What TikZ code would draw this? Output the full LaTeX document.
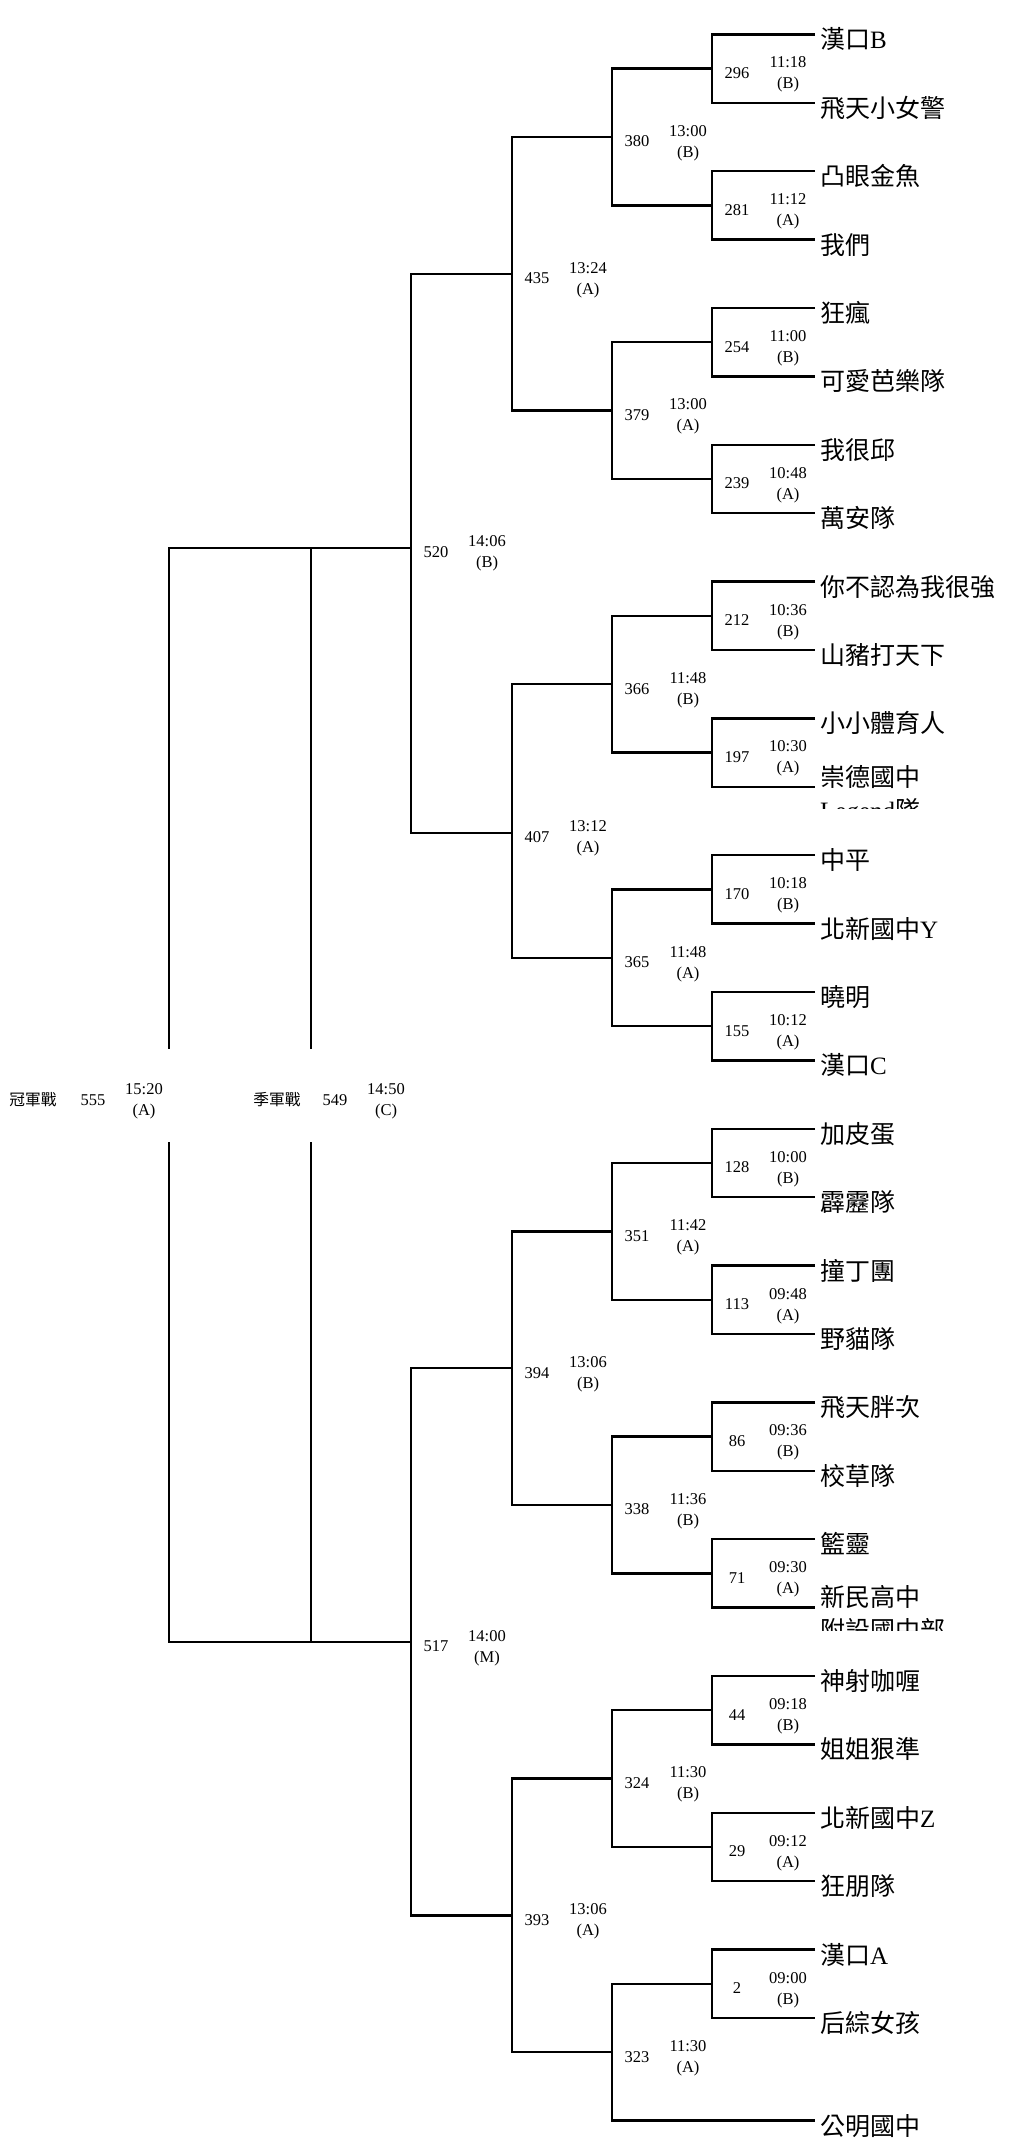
\documentclass[tikz,border=0pt]{standalone}
\usepackage{fontspec}
\setmainfont{Liberation Serif}
\newfontfamily\cjk{Noto Sans CJK TC}
\tikzset{
  bracket/.style={line width=2.3pt},
  team/.style={font=\cjk\fontsize{25}{33}\selectfont, inner sep=0pt, anchor=base west},
  num/.style={font=\fontsize{16.5}{21}\selectfont, inner sep=0pt},
  slot/.style={font=\fontsize{16.5}{21}\selectfont, inner sep=0pt, align=center},
  final/.style={font=\cjk\fontsize{15.7}{21}\selectfont, inner sep=0pt}
}
\def\team(#1)(#2)#3{\coordinate (#1) at (815,#2); \node[team] (n#1) at (820,#2+14.5) {#3};}
\def\game(#1)(#2,#3)#4#5{\coordinate (g#1) at (#2,#3);
  \node[num] (n#1) at (#2+25,#3+4.5) {#1};
  \node[slot] (s#1) at (#2+76,#3+6) {#4\\(#5)};}

\begin{document}
\begin{tikzpicture}[x=1pt, y=-1pt]
		%%%%% START %%%%%
		\useasboundingbox (0,0) rectangle (1024,2145);
		
		\team(l0)(34.4){漢口{\rmfamily B}}
		\team(l1)(102.8){飛天小女警}
		\team(l2)(171.2){凸眼金魚}
		\team(l3)(239.6){我們}
		\team(l4)(308.0){狂瘋}
		\team(l5)(376.4){可愛芭樂隊}
		\team(l6)(444.8){我很邱}
		\team(l7)(513.2){萬安隊}
		\team(l8)(581.6){你不認為我很強}
		\team(l9)(650.0){山豬打天下}
		\team(l10)(718.4){小小體育人}
		\coordinate (l11) at (815,786.8);
		\node[team] (nl11) at (820,786) {崇德國中};
		\begin{scope}
			\clip (815,760) rectangle (1024,808.6);
			\node[team] (nl11b) at (820,819) {{\rmfamily Legend}隊};
		\end{scope}
		\team(l12)(855.2){中平}
		\team(l13)(923.6){北新國中{\rmfamily Y}}
		\team(l14)(992.0){曉明}
		\team(l15)(1060.4){漢口{\rmfamily C}}
		\team(l16)(1128.8){加皮蛋}
		\team(l17)(1197.2){霹靂隊}
		\team(l18)(1265.6){撞丁團}
		\team(l19)(1334.0){野貓隊}
		\team(l20)(1402.4){飛天胖次}
		\team(l21)(1470.8){校草隊}
		\team(l22)(1539.2){籃靈}
		\coordinate (l23) at (815,1607.6);
		\node[team] (nl23) at (820,1606) {新民高中};
		\begin{scope}
			\clip (815,1580) rectangle (1024,1630);
			\node[team] (nl23b) at (820,1639) {附設國中部};
		\end{scope}
		\team(l24)(1676.0){神射咖喱}
		\team(l25)(1744.4){姐姐狠準}
		\team(l26)(1812.8){北新國中{\rmfamily Z}}
		\team(l27)(1881.2){狂朋隊}
		\team(l28)(1949.6){漢口{\rmfamily A}}
		\team(l29)(2018.0){后綜女孩}
		\team(l30)(2120.6){公明國中}
		
		\game(296)(712,68.6){11:18}{B}
		\game(281)(712,205.4){11:12}{A}
		\game(254)(712,342.2){11:00}{B}
		\game(239)(712,479.0){10:48}{A}
		\game(212)(712,615.8){10:36}{B}
		\game(197)(712,752.6){10:30}{A}
		\game(170)(712,889.4){10:18}{B}
		\game(155)(712,1026.2){10:12}{A}
		\game(128)(712,1163.0){10:00}{B}
		\game(113)(712,1299.8){09:48}{A}
		\game(86)(712,1436.6){09:36}{B}
		\game(71)(712,1573.4){09:30}{A}
		\game(44)(712,1710.2){09:18}{B}
		\game(29)(712,1847.0){09:12}{A}
		\game(2)(712,1983.8){09:00}{B}
		
		\game(380)(612,137.0){13:00}{B}
		\game(379)(612,410.6){13:00}{A}
		\game(366)(612,684.2){11:48}{B}
		\game(365)(612,957.8){11:48}{A}
		\game(351)(612,1231.4){11:42}{A}
		\game(338)(612,1505.0){11:36}{B}
		\game(324)(612,1778.6){11:30}{B}
		\game(323)(612,2052.2){11:30}{A}
		
		\game(435)(512,273.8){13:24}{A}
		\game(407)(512,832.7){13:12}{A}
		\game(394)(512,1368.2){13:06}{B}
		\game(393)(512,1915.4){13:06}{A}
		
		\game(520)(411,547.7){14:06}{B}
		\game(517)(411,1641.8){14:00}{M}
		
		\draw[bracket] (l0) -| (g296) |- (l1);
		\draw[bracket] (l2) -| (g281) |- (l3);
		\draw[bracket] (l4) -| (g254) |- (l5);
		\draw[bracket] (l6) -| (g239) |- (l7);
		\draw[bracket] (l8) -| (g212) |- (l9);
		\draw[bracket] (l10) -| (g197) |- (l11);
		\draw[bracket] (l12) -| (g170) |- (l13);
		\draw[bracket] (l14) -| (g155) |- (l15);
		\draw[bracket] (l16) -| (g128) |- (l17);
		\draw[bracket] (l18) -| (g113) |- (l19);
		\draw[bracket] (l20) -| (g86) |- (l21);
		\draw[bracket] (l22) -| (g71) |- (l23);
		\draw[bracket] (l24) -| (g44) |- (l25);
		\draw[bracket] (l26) -| (g29) |- (l27);
		\draw[bracket] (l28) -| (g2) |- (l29);
		
		\draw[bracket] (g296) -| (g380) |- (g281);
		\draw[bracket] (g254) -| (g379) |- (g239);
		\draw[bracket] (g212) -| (g366) |- (g197);
		\draw[bracket] (g170) -| (g365) |- (g155);
		\draw[bracket] (g128) -| (g351) |- (g113);
		\draw[bracket] (g86) -| (g338) |- (g71);
		\draw[bracket] (g44) -| (g324) |- (g29);
		\draw[bracket] (g2) -| (g323) |- (l30);
		
		\draw[bracket] (g380) -| (g435) |- (g379);
		\draw[bracket] (g366) -| (g407) |- (g365);
		\draw[bracket] (g351) -| (g394) |- (g338);
		\draw[bracket] (g324) -| (g393) |- (g323);
		
		\draw[bracket] (g435) -| (g520) |- (g407);
		\draw[bracket] (g394) -| (g517) |- (g393);
		
		% finals
		\coordinate (f555) at (169,547.7);
		\coordinate (f555u) at (169,1049);
		\coordinate (f555d) at (169,1142);
		\coordinate (f555b) at (169,1641.8);
		\coordinate (f549) at (311,547.7);
		\coordinate (f549u) at (311,1049);
		\coordinate (f549d) at (311,1142);
		\coordinate (f549b) at (311,1641.8);
		\draw[bracket] (g520) -- (f555) -- (f555u);
		\draw[bracket] (f549) -- (f549u);
		\draw[bracket] (f555d) -- (f555b) -- (g517);
		\draw[bracket] (f549d) -- (f549b);
		
		\node[final] (champ) at (33,1100) {冠軍戰};
		\node[num] (n555) at (93,1100) {555};
		\node[slot] (s555) at (144,1101.5) {15:20\\(A)};
		\node[final] (third) at (277,1100) {季軍戰};
		\node[num] (n549) at (335,1100) {549};
		\node[slot] (s549) at (386,1101.5) {14:50\\(C)};
		
		%%%%% END %%%%%
	\end{tikzpicture}
\end{document}
